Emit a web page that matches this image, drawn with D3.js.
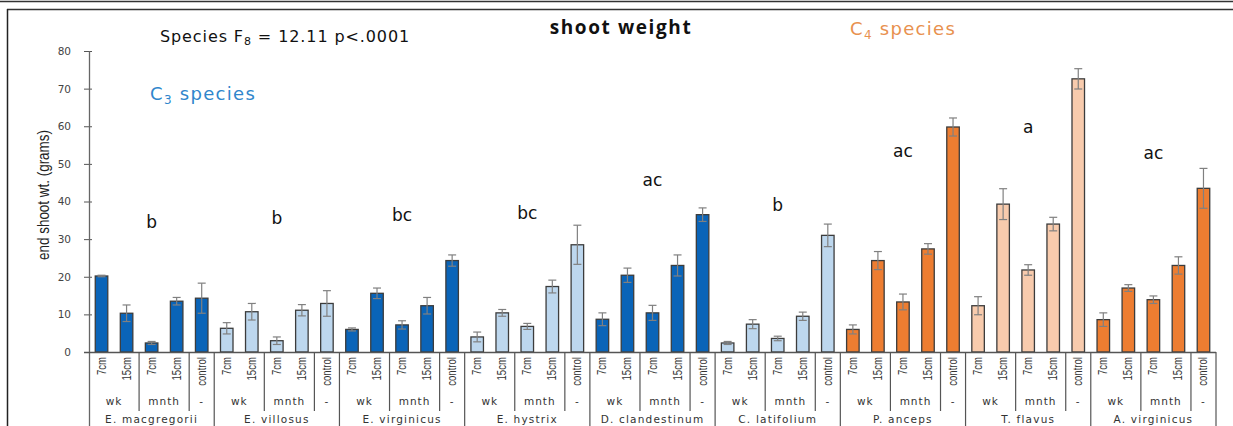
<!doctype html>
<html lang="en">
<head>
<meta charset="utf-8">
<title>shoot weight</title>
<script src="https://d3js.org/d3.v7.min.js"></script>
<style>
  body { margin: 0; background: #fff; }
</style>
</head>
<body>
<svg id="chart" width="1233" height="426"></svg>
<script>
// species (9 groups of 5 bars each)
var species = ["E. macgregorii", "E. villosus", "E. virginicus", "E. hystrix",
  "D. clandestinum", "C. latifolium", "P. anceps", "T. flavus", "A. virginicus"];
// colour key per species
var fillKey = ["dark", "light", "dark", "light", "dark", "light", "orange", "peach", "orange"];
var depths = ["7cm", "15cm", "7cm", "15cm", "control"];
var timings = ["wk", "mnth", "-"];
var timingSpan = [2, 2, 1];

// mean end shoot weight (g), per species: wk 7cm, wk 15cm, mnth 7cm, mnth 15cm, control
var means = [
  [20.2, 10.3, 2.4, 13.5, 14.3],
  [6.3, 10.7, 3.0, 11.1, 12.9],
  [6.0, 15.6, 7.2, 12.3, 24.3],
  [4.0, 10.4, 6.8, 17.4, 28.5],
  [8.7, 20.4, 10.4, 23.0, 36.5],
  [2.4, 7.4, 3.6, 9.5, 31.0],
  [6.0, 24.3, 13.3, 27.4, 59.8],
  [12.3, 39.3, 21.8, 34.0, 72.6],
  [8.6, 17.0, 13.9, 23.0, 43.5]
];
// standard errors
var errs = [
  [0.2, 2.2, 0.4, 1.0, 4.0],
  [1.5, 2.2, 1.0, 1.5, 3.4],
  [0.4, 1.4, 1.1, 2.2, 1.5],
  [1.3, 0.9, 0.8, 1.7, 5.2],
  [1.7, 1.9, 2.0, 2.8, 1.8],
  [0.4, 1.2, 0.6, 1.1, 3.0],
  [1.2, 2.4, 2.1, 1.4, 2.4],
  [2.4, 4.1, 1.4, 1.8, 2.7],
  [1.8, 0.9, 1.0, 2.3, 5.3]
];
// significance letters and the value height they sit at
var letters = ["b", "b", "bc", "bc", "ac", "b", "ac", "a", "ac"];
var letterAt = [34.5, 35.6, 36.4, 37.0, 45.7, 39.0, 53.4, 59.8, 52.9];
var yTicks = [0, 10, 20, 30, 40, 50, 60, 70, 80];

var colors = { dark: "#0a64b8", light: "#bdd7ee", orange: "#ed7d31", peach: "#f8cbad" };

var svg = d3.select("#chart");

// flatten into rows
var rows = [];
species.forEach(function (sp, g) {
  depths.forEach(function (d, k) {
    rows.push({ id: g * 5 + k, g: g, k: k, label: d, mean: means[g][k], err: errs[g][k] });
  });
});

var x = d3.scaleBand()
  .domain(rows.map(function (d) { return d.id; }))
  .range([89, 1216])
  .paddingInner(0.5)
  .paddingOuter(0.25);
var y = d3.scaleLinear().domain([0, 80]).range([352, 51]);
var step = x.step();
var slotLeft = function (i) { return x(i) - step * x.paddingInner() / 2; };

// frame
svg.append("line").attr("x1", 0).attr("x2", 1233).attr("y1", 1.5).attr("y2", 1.5)
  .attr("stroke", "#333").attr("stroke-width", 1.5);
svg.append("line").attr("x1", 7).attr("x2", 1233).attr("y1", 9.5).attr("y2", 9.5)
  .attr("stroke", "#333").attr("stroke-width", 1.5);
svg.append("line").attr("x1", 7.5).attr("x2", 7.5).attr("y1", 9).attr("y2", 426)
  .attr("stroke", "#222").attr("stroke-width", 1.5);

// y axis
var yAxis = svg.append("g")
  .attr("transform", "translate(89,0)")
  .call(d3.axisLeft(y).tickValues(yTicks).tickSize(5).tickPadding(13));
yAxis.select(".domain").remove();
yAxis.selectAll(".tick line").attr("x1", -5).attr("x2", 3).attr("stroke", "#555");
yAxis.selectAll(".tick text")
  .attr("font-family", "DejaVu Sans").attr("font-size", 10.5).attr("fill", "#444");
svg.append("line").attr("x1", 89.5).attr("x2", 89.5).attr("y1", y(80)).attr("y2", 426)
  .attr("stroke", "#666").attr("stroke-width", 1.3);

svg.append("text")
  .attr("transform", "translate(49,195) rotate(-90) scale(0.84,1)")
  .attr("text-anchor", "middle")
  .attr("font-family", "Liberation Sans")
  .attr("font-size", 16).attr("fill", "#222")
  .text("end shoot wt. (grams)");

// bars
svg.append("g").selectAll("rect").data(rows).enter().append("rect")
  .attr("x", function (d) { return x(d.id); })
  .attr("width", x.bandwidth())
  .attr("y", function (d) { return y(d.mean); })
  .attr("height", function (d) { return y(0) - y(d.mean); })
  .attr("fill", function (d) { return colors[fillKey[d.g]]; })
  .attr("stroke", "#3c3c3c").attr("stroke-width", 1.3);

// error bars
var eb = svg.append("g").attr("stroke", "#808080").attr("stroke-width", 1.2);
rows.forEach(function (d) {
  var cx = x(d.id) + x.bandwidth() / 2;
  eb.append("line").attr("x1", cx).attr("x2", cx)
    .attr("y1", y(d.mean + d.err)).attr("y2", y(d.mean - d.err));
  [d.mean + d.err, d.mean - d.err].forEach(function (v) {
    eb.append("line").attr("x1", cx - 4).attr("x2", cx + 4).attr("y1", y(v)).attr("y2", y(v));
  });
});

// baseline
svg.append("line").attr("x1", 84).attr("x2", 1216).attr("y1", y(0) + 0.5).attr("y2", y(0) + 0.5)
  .attr("stroke", "#555").attr("stroke-width", 1.3);

// category table
var tbl = svg.append("g").attr("stroke", "#555").attr("stroke-width", 1.2);
rows.forEach(function (d) {
  svg.append("text")
    .attr("transform", "translate(" + (x(d.id) + x.bandwidth() / 2 + 4) + ",357) rotate(-90) scale(0.8,1)")
    .attr("text-anchor", "end")
    .attr("font-family", "Liberation Sans")
    .attr("font-size", 12).attr("fill", "#333")
    .text(d.label);
});
species.forEach(function (sp, g) {
  var first = g * 5;
  var pos = 0;
  timings.forEach(function (t, j) {
    var l = slotLeft(first + pos);
    var r = slotLeft(first + pos) + step * timingSpan[j];
    svg.append("text")
      .attr("x", (l + r) / 2).attr("y", 405)
      .attr("text-anchor", "middle")
      .attr("font-family", "DejaVu Sans").attr("font-size", 10.5)
      .attr("letter-spacing", 1).attr("fill", "#333")
      .text(t);
    pos += timingSpan[j];
    if (j < timings.length - 1) {
      tbl.append("line").attr("x1", r).attr("x2", r).attr("y1", y(0)).attr("y2", 411);
    }
  });
  var gl = slotLeft(first), gr = gl + step * 5;
  svg.append("text")
    .attr("x", (gl + gr) / 2).attr("y", 422.5)
    .attr("text-anchor", "middle")
    .attr("font-family", "DejaVu Sans").attr("font-size", 10.5)
    .attr("letter-spacing", 1.2).attr("fill", "#333")
    .text(sp);
  tbl.append("line").attr("x1", gr).attr("x2", gr).attr("y1", y(0)).attr("y2", 426);
});

// significance letters
species.forEach(function (sp, g) {
  var c = slotLeft(g * 5) + step * 2.5;
  svg.append("text")
    .attr("x", c).attr("y", y(letterAt[g]) + 6)
    .attr("text-anchor", "middle")
    .attr("font-family", "DejaVu Sans").attr("font-size", 17).attr("fill", "#111")
    .text(letters[g]);
});

// titles and notes
svg.append("text").attr("x", 621).attr("y", 34).attr("text-anchor", "middle")
  .attr("font-family", "Open Sans").attr("font-weight", "bold").attr("font-size", 19)
  .attr("letter-spacing", 1.6).attr("fill", "#111")
  .text("shoot weight");

var f = svg.append("text").attr("x", 160).attr("y", 42)
  .attr("font-family", "DejaVu Sans").attr("font-size", 16).attr("letter-spacing", 0.9)
  .attr("fill", "#111");
f.append("tspan").text("Species F");
f.append("tspan").attr("font-size", 11).attr("dy", 3).text("8");
f.append("tspan").attr("dy", -3).text(" = 12.11 p<.0001");

var c3 = svg.append("text").attr("x", 150).attr("y", 100)
  .attr("font-family", "DejaVu Sans").attr("font-size", 18).attr("letter-spacing", 1.3)
  .attr("fill", "#2f86cc");
c3.append("tspan").text("C");
c3.append("tspan").attr("font-size", 12).attr("dy", 4).text("3");
c3.append("tspan").attr("dy", -4).text(" species");

var c4 = svg.append("text").attr("x", 850).attr("y", 35)
  .attr("font-family", "DejaVu Sans").attr("font-size", 18).attr("letter-spacing", 1.3)
  .attr("fill", "#e8914f");
c4.append("tspan").text("C");
c4.append("tspan").attr("font-size", 12).attr("dy", 4).text("4");
c4.append("tspan").attr("dy", -4).text(" species");
</script>
</body>
</html>
